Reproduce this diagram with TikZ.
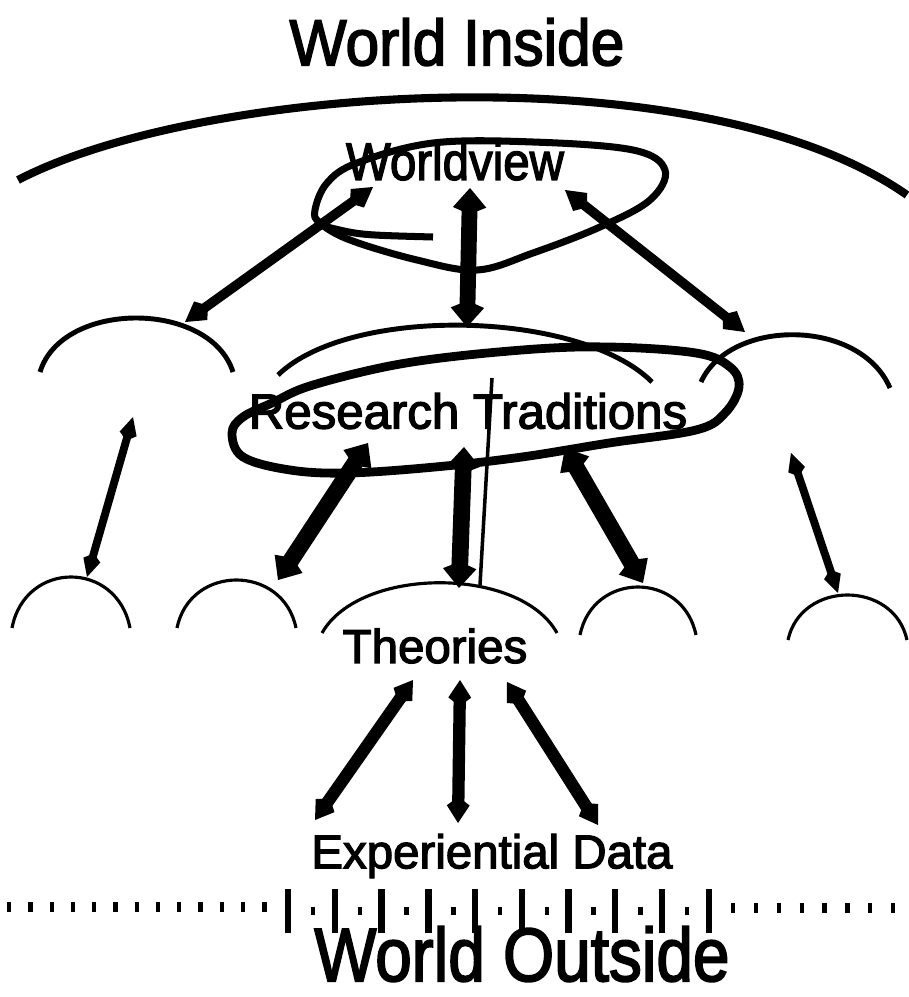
\documentclass[tikz,border=0pt]{standalone}
\usepackage{fontspec}
\setmainfont{Liberation Sans}[BoldFont=Liberation Sans, BoldFeatures={FakeBold=2.6}]
\usetikzlibrary{arrows.meta}

\begin{document}
\begin{tikzpicture}[x=0.02cm, y=-0.02cm,
  txt/.style={inner sep=0pt, anchor=center, font=\bfseries},
  hill/.style={line width=2.8pt},
  smallhill/.style={line width=1.8pt},
  loopline/.style={line width=4pt, line join=round},
  wvarrow/.style={line width=5.5pt, {Kite[length=16pt,width=13pt,inset=5pt]}-{Kite[length=16pt,width=13pt,inset=5pt]}},
  wvmain/.style={line width=9pt, {Kite[length=15pt,width=19pt,inset=4pt]}-{Kite[length=15pt,width=19pt,inset=4pt]}},
  fatarrow/.style={line width=9.5pt, {Kite[length=15pt,width=19pt,inset=4pt]}-{Kite[length=15pt,width=19pt,inset=4pt]}},
  tharrow/.style={line width=7pt, {Kite[length=15pt,width=13pt,inset=5pt]}-{Kite[length=15pt,width=13pt,inset=5pt]}},
  thinarrow/.style={line width=4.5pt, {Kite[length=14pt,width=10pt,inset=4pt]}-{Kite[length=14pt,width=10pt,inset=4pt]}}]

  \useasboundingbox (0,0) rectangle (909,997);

  %% ── Labels ────────────────────
  \node[txt, xscale=0.93] (inside) at (457,42) {\fontsize{37}{40}\selectfont World Inside};
  \node[txt, xscale=0.9]  (wv)     at (455,161) {\fontsize{30}{32}\selectfont Worldview};
  \node[txt]              (rt)     at (468,411) {\fontsize{28}{30}\selectfont Research Traditions};
  \node[txt]              (th)     at (435,646) {\fontsize{27}{29}\selectfont Theories};
  \node[txt]              (data)   at (492,856) {\fontsize{27}{29}\selectfont Experiential Data};
  \node[txt, xscale=0.87] (outside) at (522,954) {\fontsize{43}{45}\selectfont World Outside};

  %% ── Sky arc ────────────────────
  \draw[line width=4.6pt] (18,180) .. controls (200,85) and (700,50) .. (907,195);

  % Worldview loop
  \draw[loopline] plot[smooth cycle, tension=0.6] coordinates {
    (315,210) (327,183) (357,163) (433,143) (533,142) (633,150) (665,170)
    (650,200) (600,227) (533,253) (477,270) (417,260) (350,240) (320,223)};
  \draw[loopline] (327,227) .. controls (360,235) .. (433,237);

  % Research traditions: three hills
  \draw[hill] (40,372) .. controls (62,300) and (210,300) .. (233,372);
  \draw[hill] (278,375) .. controls (350,305) and (580,310) .. (652,382);
  \draw[hill] (701,382) .. controls (730,318) and (860,318) .. (890,388);

  % Research traditions loop
  \draw[line width=5pt, line join=round] plot[smooth cycle, tension=0.6] coordinates {
    (313,385) (406,363) (522,350) (609,347) (696,353) (730,367) (739,387)
    (725,413) (696,430) (609,443) (522,457) (435,467) (348,473) (290,470)
    (243,457) (232,433) (243,417) (272,403)};

  % Theories: five hills
  \draw[smallhill] (12,628) .. controls (25,560) and (117,560) .. (130,628);
  \draw[smallhill] (177,628) .. controls (190,564) and (283,564) .. (296,628);
  \draw[smallhill] (322,633) .. controls (360,566) and (520,566) .. (557,633);
  \draw[smallhill] (580,635) .. controls (593,571) and (683,571) .. (696,635);
  \draw[smallhill] (788,640) .. controls (801,580) and (894,580) .. (907,640);

  %% ── Arrow ends ────────────────────
  \coordinate (wv-l) at (373,187);
  \coordinate (wv-c) at (470,188);
  \coordinate (wv-r) at (565,190);
  \coordinate (rt-l) at (185,322);
  \coordinate (rt-c) at (467,327);
  \coordinate (rt-r) at (745,332);

  \coordinate (rt-a) at (133,417);
  \coordinate (rt-b) at (368,443);
  \coordinate (rt-d) at (464,447);
  \coordinate (rt-e) at (565,448);
  \coordinate (rt-f) at (791,453);
  \coordinate (th-a) at (87,577);
  \coordinate (th-b) at (278,580);
  \coordinate (th-d) at (459,588);
  \coordinate (th-e) at (643,583);
  \coordinate (th-f) at (838,593);
  \coordinate (pen-t) at (492,378);
  \coordinate (pen-b) at (480,585);

  \coordinate (th-l) at (413,680);
  \coordinate (th-c) at (460,680);
  \coordinate (th-r) at (507,682);
  \coordinate (dt-l) at (315,820);
  \coordinate (dt-c) at (458,823);
  \coordinate (dt-r) at (598,825);

  %% ── Arrows ────────────────────
  \draw[wvarrow] (wv-l) -- (rt-l);
  \draw[wvmain] (wv-c) -- (rt-c);
  \draw[wvarrow] (wv-r) -- (rt-r);

  \draw[thinarrow] (rt-a) -- (th-a);
  \draw[fatarrow] (rt-b) -- (th-b);
  \draw[fatarrow] (rt-d) -- (th-d);
  \draw[fatarrow] (rt-e) -- (th-e);
  \draw[thinarrow] (rt-f) -- (th-f);
  \draw[line width=2pt] (pen-t) -- (pen-b);

  \draw[tharrow] (th-l) -- (dt-l);
  \draw[tharrow] (th-c) -- (dt-c);
  \draw[tharrow] (th-r) -- (dt-r);

  %% ── Boundary ticks ────────────────────
  \draw[line width=6.2pt, dash pattern=on 2.5pt off 9.6pt] (7,907) -- (277,907);
  \draw[line width=25pt, dash pattern=on 3.6pt off 23pt] (285,911) -- (715,911);
  \draw[line width=4.5pt, dash pattern=on 2.5pt off 24.1pt] (311,911) -- (700,911);
  \draw[line width=6.2pt, dash pattern=on 2.5pt off 10.5pt] (731,908) -- (907,908);

\end{tikzpicture}
\end{document}
